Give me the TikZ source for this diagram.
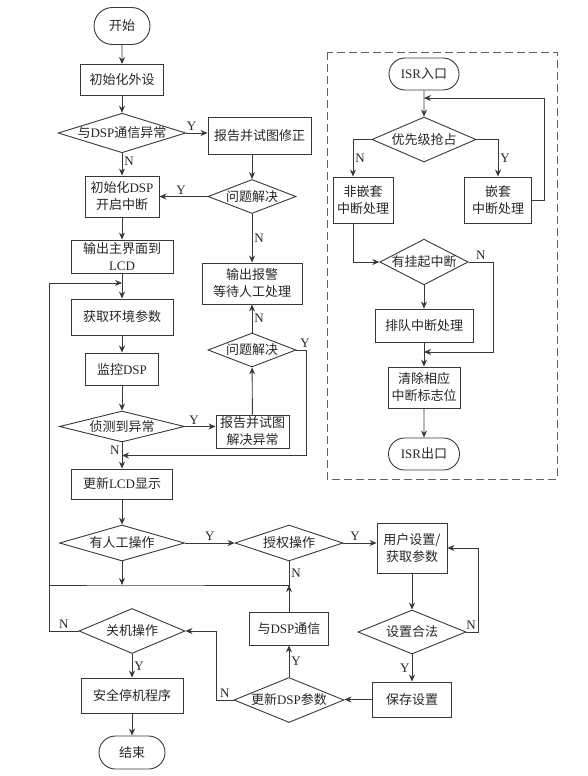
\documentclass[tikz,border=0pt]{standalone}
\usepackage{fontspec}
\setmainfont{Liberation Serif}
\newfontfamily\cjk{Noto Sans CJK SC}
\usepackage{xcolor}
\usepackage{tikz}
\usetikzlibrary{
    shapes.geometric,
    shapes.misc,
    arrows.meta,
    positioning
}
\newcommand{\en}[1]{{\rmfamily #1}}
\definecolor{linie}{gray}{0.22}
\definecolor{schrift}{gray}{0.15}
\tikzstyle{arrow} = [
    line width=0.9pt,
    draw=linie,
    ->,
    >={Stealth[length=7pt,width=6pt]}
]
\tikzstyle{line} = [
    line width=0.9pt,
    draw=linie
]
\tikzset{
    base/.style={draw=linie, line width=0.9pt, inner sep=0pt, align=center,
        text=schrift, font=\cjk\fontsize{13}{17}\selectfont},
    box/.style 2 args={base, rectangle, minimum width=#1pt, minimum height=#2pt},
    decision/.style 2 args={base, diamond,
        /utils/exec={\pgfmathsetmacro\decaspect{#1/#2}}, aspect=\decaspect,
        minimum width=#1pt, minimum height=#2pt},
    terminal/.style 2 args={base, rounded rectangle, minimum width=#1pt, minimum height=#2pt},
    yn/.style={text=schrift, inner sep=2pt, font=\rmfamily\fontsize{13}{15}\selectfont},
    isrframe/.style={draw=linie!80, line width=0.9pt, dash pattern=on 8pt off 4pt}
}

\begin{document}
\begin{tikzpicture}[x=1pt, y=-1pt]
% Bildgröße wie Vorlage
\useasboundingbox (0,0) rectangle (587,776);

% Hauptprogramm, linke Spalte
\node[terminal={56}{37}] (start) at (122,26) {开始};
\node[box={83}{31}] (initper) at (122,80) {初始化外设};
\node[decision={126}{39}] (dspcheck) at (122,133) {与\en{DSP}通信异常};
\node[box={74}{41}] (initdsp) at (122,196.5) {初始化\en{DSP}\\开启中断};
\node[box={102}{33}] (lcdmain) at (122,256.5) {输出主界面到\\\en{LCD}};
\node[box={102}{36}] (getenv) at (122,317) {获取环境参数};
\node[box={73}{32}] (monitor) at (122,369) {监控\en{DSP}};
\node[decision={125}{31}] (detect) at (122,426.5) {侦测到异常};
\node[box={101}{30}] (lcdupd) at (122,484) {更新\en{LCD}显示};
\node[decision={125}{36}] (manual) at (122,543) {有人工操作};
\node[decision={106}{45}] (shutdown) at (132,631) {关机操作};
\node[box={102}{35}] (safestop) at (132,695.5) {安全停机程序};
\node[terminal={66}{33}] (finish) at (132,752.5) {结束};

% Fehlerbehandlung, mittlere Spalte
\node[box={103}{37}] (report1) at (259.5,135.5) {报告并试图修正};
\node[decision={88}{34}] (solved1) at (252,196.5) {问题解决};
\node[box={100}{41}] (alarm) at (252,283.5) {输出报警\\等待人工处理};
\node[decision={88}{34}] (solved2) at (252,350) {问题解决};
\node[box={73}{33}] (report2) at (252.5,431.5) {报告并试图\\解决异常};

% Bedienung und Einstellungen
\node[decision={108}{36}] (auth) at (289,543) {授权操作};
\node[box={79}{33}] (dspcomm) at (289,628.5) {与\en{DSP}通信};
\node[decision={110}{45}] (dspupd) at (289,700) {更新\en{DSP}参数};
\node[box={70}{50}] (userset) at (412,548) {用户设置/\\获取参数};
\node[decision={108}{44}] (valid) at (412,632) {设置合法};
\node[box={79}{35}] (save) at (412,699.5) {保存设置};

% Interrupt-Routine im gestrichelten Rahmen
\draw[isrframe] (327,52) rectangle (557,479);
\node[terminal={70}{32}] (isrin) at (424,74) {\en{ISR}入口};
\node[decision={104}{45}] (prio) at (424,139.5) {优先级抢占};
\node[box={60}{46}] (nonnest) at (363,200) {非嵌套\\中断处理};
\node[box={67}{46}] (nest) at (498,200) {嵌套\\中断处理};
\node[decision={87}{45}] (pending) at (424,262) {有挂起中断};
\node[box={98}{33}] (queue) at (424,325.5) {排队中断处理};
\node[box={72}{41}] (clear) at (424,387.5) {清除相应\\中断标志位};
\node[terminal={71}{32}] (isrout) at (424,454) {\en{ISR}出口};

% Knickpunkte der Rückführungen
\coordinate (j1) at (122,283);
\coordinate (j2) at (122,455.5);
\coordinate (j3) at (122,585);
\coordinate (j4) at (289,585);
\coordinate (back) at (49,283);
\coordinate (ret2) at (306,455.5);
\coordinate (isrj1) at (424,98);
\coordinate (isrback) at (544,98);
\coordinate (isrj2) at (424,352);
\coordinate (isrskip) at (493,352);
\coordinate (nnin) at (353,200);
\coordinate (setback) at (478,548);
\coordinate (updback) at (216,631);

% Verbindungen Hauptprogramm
\draw[arrow] (start) -- (initper);
\draw[arrow] (initper) -- (dspcheck);
\draw[arrow] (dspcheck) -- node[yn, right, pos=0.35] (n1) {N} (initdsp);
\draw[arrow] (dspcheck.east) -- node[yn, above, pos=0.25] (y1) {Y} (dspcheck.east -| report1.west);
\draw[arrow] (solved1.north |- report1.south) -- (solved1.north);
\draw[arrow] (solved1.west) -- node[yn, above, pos=0.55] (y2) {Y} (initdsp.east);
\draw[arrow] (solved1) -- node[yn, right] (n2) {N} (alarm);
\draw[arrow] (initdsp) -- (lcdmain);
\draw[arrow] (lcdmain) -- (getenv);
\draw[arrow] (getenv) -- (monitor);
\draw[arrow] (monitor) -- (detect);
\draw[arrow] (detect.east) -- node[yn, above, pos=0.3] (y3) {Y} (detect.east -| report2.west);
\draw[arrow] (report2) -- (solved2);
\draw[arrow] (solved2) -- node[yn, right] (n3) {N} (alarm);
\draw[arrow] (solved2.east) -- node[yn, above, pos=0.9] (y4) {Y} (solved2.east -| ret2) -- (ret2) -- (j2);
\draw[arrow] (detect) -- node[yn, left, pos=0.3] (n4) {N} (lcdupd);
\draw[arrow] (lcdupd) -- (manual);
\draw[arrow] (manual) -- node[yn, above] (y5) {Y} (auth);
\draw[arrow] (manual) -- (j3);
\draw[line] (auth) -- node[yn, right] (n5) {N} (j4) -- (j3) -- (j3 -| back);
\draw[arrow] (dspcomm) -- (j4);
\draw[arrow] (shutdown.west) -- node[yn, above] (n6) {N} (shutdown.west -| back) -- (back) -- (j1);
\draw[arrow] (shutdown) -- node[yn, right] (y6) {Y} (safestop);
\draw[arrow] (safestop) -- (finish);

% Verbindungen Einstellungen
\draw[arrow] (auth.east) -- node[yn, above, pos=0.35] (y7) {Y} (auth.east -| userset.west);
\draw[arrow] (userset) -- (valid);
\draw[arrow] (valid) -- node[yn, left] (y8) {Y} (save);
\draw[arrow] (valid.east) -- node[yn, above, pos=0.4] (n7) {N} (valid.east -| setback) -- (setback) -- (userset.east);
\draw[arrow] (save.west) -- (save.west -| dspupd.east);
\draw[arrow] (dspupd) -- node[yn, right] (y9) {Y} (dspcomm);
\draw[arrow] (dspupd.west) -- node[yn, above] (n8) {N} (dspupd.west -| updback) -- (updback) -- (shutdown.east);

% Verbindungen Interrupt-Routine
\draw[arrow] (isrin) -- (prio);
\draw[arrow] (nest.east) -- (nest.east -| isrback) -- (isrback) -- (isrj1);
\draw[arrow] (prio.west) -| node[yn, right, pos=0.75] (n9) {N} (nnin |- nonnest.north);
\draw[arrow] (prio.east) -| node[yn, right, pos=0.75] (y10) {Y} (nest.north);
\draw[arrow] (nnin |- nonnest.south) |- (pending.west);
\draw[arrow] (pending) -- (queue);
\draw[arrow] (queue) -- (clear);
\draw[arrow] (pending.east) -- node[yn, above, pos=0.5] (n10) {N} (pending.east -| isrskip) -- (isrskip) -- (isrj2);
\draw[arrow] (clear) -- (isrout);
\end{tikzpicture}
\end{document}
